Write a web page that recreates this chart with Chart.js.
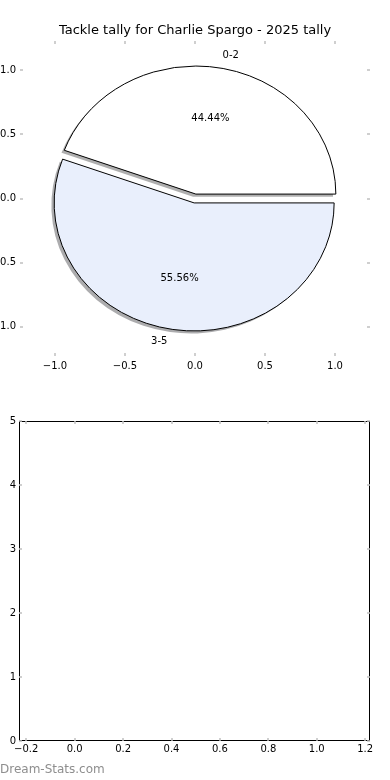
<!DOCTYPE html>
<html>
<head>
<meta charset="utf-8">
<script src="https://cdn.jsdelivr.net/npm/chart.js@4/dist/chart.umd.min.js"></script>
<style>
  html, body { margin: 0; padding: 0; background: #fff; width: 390px; height: 780px; overflow: hidden; position: relative; }
  #pieChart { position: absolute; left: -40px; top: 0; }
  #emptyChart { position: absolute; left: 0; top: 390px; }
  #mark { position: absolute; left: 0; top: 762px; font: 12px "DejaVu Sans"; color: #8e8e8e; }
</style>
</head>
<body>
<canvas id="pieChart" width="470" height="390"></canvas>
<canvas id="emptyChart" width="390" height="390"></canvas>
<div id="mark">Dream-Stats.com</div>
<script>
const chartTitle = 'Tackle tally for Charlie Spargo - 2025 tally';
const sliceLabels = ['0-2', '3-5'];
const sliceCounts = [4, 5];
const sliceColors = ['#ffffff', '#e9effc'];
const sliceExplode = [0.035, 0.035];
const pieTicks = [-1.0, -0.5, 0.0, 0.5, 1.0];
const emptyXTicks = [-0.2, 0.0, 0.2, 0.4, 0.6, 0.8, 1.0, 1.2];
const emptyYTicks = [0, 1, 2, 3, 4, 5];

Chart.defaults.font.family = '"DejaVu Sans", sans-serif';
Chart.defaults.font.size = 10;
Chart.defaults.color = '#000';

const fmt = (v) => v.toFixed(1).replace('-', '\u2212');

// matplotlib style ticks: short grey marks pointing inwards on all four sides
const innerTicks = {
  id: 'innerTicks',
  afterDraw(chart) {
    const { ctx, chartArea: a, scales: { x, y } } = chart;
    ctx.save();
    ctx.strokeStyle = '#c0c0c0';
    ctx.lineWidth = 1.5;
    ctx.beginPath();
    x.ticks.forEach((t) => {
      const px = Math.round(x.getPixelForValue(t.value));
      ctx.moveTo(px, a.top); ctx.lineTo(px, a.top + 3);
      ctx.moveTo(px, a.bottom); ctx.lineTo(px, a.bottom - 3);
    });
    y.ticks.forEach((t) => {
      const py = Math.round(y.getPixelForValue(t.value));
      ctx.moveTo(a.left, py); ctx.lineTo(a.left + 3, py);
      ctx.moveTo(a.right, py); ctx.lineTo(a.right - 3, py);
    });
    ctx.stroke();
    ctx.restore();
  },
};

const frame = {
  id: 'frame',
  afterDraw(chart) {
    const { ctx, chartArea: a } = chart;
    ctx.save();
    ctx.strokeStyle = '#000';
    ctx.lineWidth = 1;
    ctx.strokeRect(a.left + 0.5, a.top + 0.5, a.right - a.left - 1, a.bottom - a.top - 1);
    ctx.restore();
  },
};

// exploded pie with shadow, drawn in data space of the x/y scales
const pieWedges = {
  id: 'pieWedges',
  afterDatasetsDraw(chart) {
    const { ctx, scales: { x, y } } = chart;
    const total = sliceCounts.reduce((a, b) => a + b, 0);
    const rx = x.getPixelForValue(1) - x.getPixelForValue(0);
    const ry = y.getPixelForValue(0) - y.getPixelForValue(1);
    let start = 0;
    const wedges = sliceCounts.map((v, i) => {
      const sweep = (2 * Math.PI * v) / total;
      const mid = start + sweep / 2;
      const w = {
        t1: start,
        t2: start + sweep,
        mid,
        dx: sliceExplode[i] * Math.cos(mid),
        dy: sliceExplode[i] * Math.sin(mid),
      };
      start += sweep;
      return w;
    });
    const path = (w, ox, oy) => {
      const cx = x.getPixelForValue(w.dx) + ox;
      const cy = y.getPixelForValue(w.dy) + oy;
      ctx.beginPath();
      ctx.moveTo(cx, cy);
      ctx.ellipse(cx, cy, rx, ry, 0, -w.t1, -w.t2, true);
      ctx.closePath();
    };
    ctx.save();
    ctx.lineWidth = 1;
    wedges.forEach((w, i) => {
      const rgb = Chart.helpers.color(sliceColors[i])._rgb;
      path(w, -0.02 * rx, 0.02 * ry);
      ctx.fillStyle = `rgba(${rgb.r * 0.3},${rgb.g * 0.3},${rgb.b * 0.3},0.45)`;
      ctx.fill();
    });
    wedges.forEach((w, i) => {
      path(w, 0, 0);
      ctx.fillStyle = sliceColors[i];
      ctx.strokeStyle = '#000';
      ctx.fill();
      ctx.stroke();
    });
    ctx.fillStyle = '#000';
    ctx.font = '10px "DejaVu Sans"';
    ctx.textBaseline = 'middle';
    wedges.forEach((w, i) => {
      const c = Math.cos(w.mid), s = Math.sin(w.mid);
      ctx.textAlign = c > 0 ? 'left' : 'right';
      ctx.fillText(sliceLabels[i], x.getPixelForValue(w.dx + 1.1 * c), y.getPixelForValue(w.dy + 1.1 * s));
      ctx.textAlign = 'center';
      const pct = ((100 * sliceCounts[i]) / total).toFixed(2) + '%';
      ctx.fillText(pct, x.getPixelForValue(w.dx + 0.6 * c), y.getPixelForValue(w.dy + 0.6 * s));
    });
    ctx.restore();
  },
};

new Chart(document.getElementById('pieChart'), {
  type: 'scatter',
  data: { datasets: [{ data: [] }] },
  plugins: [pieWedges, innerTicks],
  options: {
    responsive: false,
    animation: false,
    layout: { padding: { left: 0, right: 60, top: 0, bottom: 0 } },
    plugins: {
      legend: { display: false },
      tooltip: { enabled: false },
      title: {
        display: true,
        fullSize: false,
        text: chartTitle,
        color: '#000',
        font: { size: 13, weight: 'normal' },
        padding: { top: 23, bottom: 2.4 },
      },
    },
    scales: {
      x: {
        type: 'linear', min: -1.25, max: 1.25,
        grid: { display: false, drawTicks: false },
        border: { display: false },
        ticks: { padding: 4, callback: (v) => fmt(v) },
        afterBuildTicks: (s) => { s.ticks = pieTicks.map((v) => ({ value: v })); },
        afterFit: (s) => { s.height = 34; },
      },
      y: {
        type: 'linear', min: -1.23, max: 1.23,
        grid: { display: false, drawTicks: false },
        border: { display: false },
        ticks: { padding: 4, callback: (v) => fmt(v) },
        afterBuildTicks: (s) => { s.ticks = pieTicks.map((v) => ({ value: v })); },
        afterFit: (s) => { s.width = 60; },
      },
    },
  },
});

new Chart(document.getElementById('emptyChart'), {
  type: 'scatter',
  data: { datasets: [{ data: [] }] },
  plugins: [frame, innerTicks],
  options: {
    responsive: false,
    animation: false,
    layout: { padding: { left: 0, right: 20, top: 31, bottom: 0 } },
    plugins: { legend: { display: false }, tooltip: { enabled: false } },
    scales: {
      x: {
        type: 'linear', min: -0.23, max: 1.22,
        grid: { display: false, drawTicks: false },
        border: { display: false },
        ticks: { padding: 2, callback: (v) => fmt(v) },
        afterBuildTicks: (s) => { s.ticks = emptyXTicks.map((v) => ({ value: v })); },
        afterFit: (s) => { s.height = 39; },
      },
      y: {
        type: 'linear', min: 0, max: 5,
        grid: { display: false, drawTicks: false },
        border: { display: false },
        ticks: { padding: 3, callback: (v) => String(v) },
        afterBuildTicks: (s) => { s.ticks = emptyYTicks.map((v) => ({ value: v })); },
        afterFit: (s) => { s.width = 19; },
      },
    },
  },
});
</script>
</body>
</html>
